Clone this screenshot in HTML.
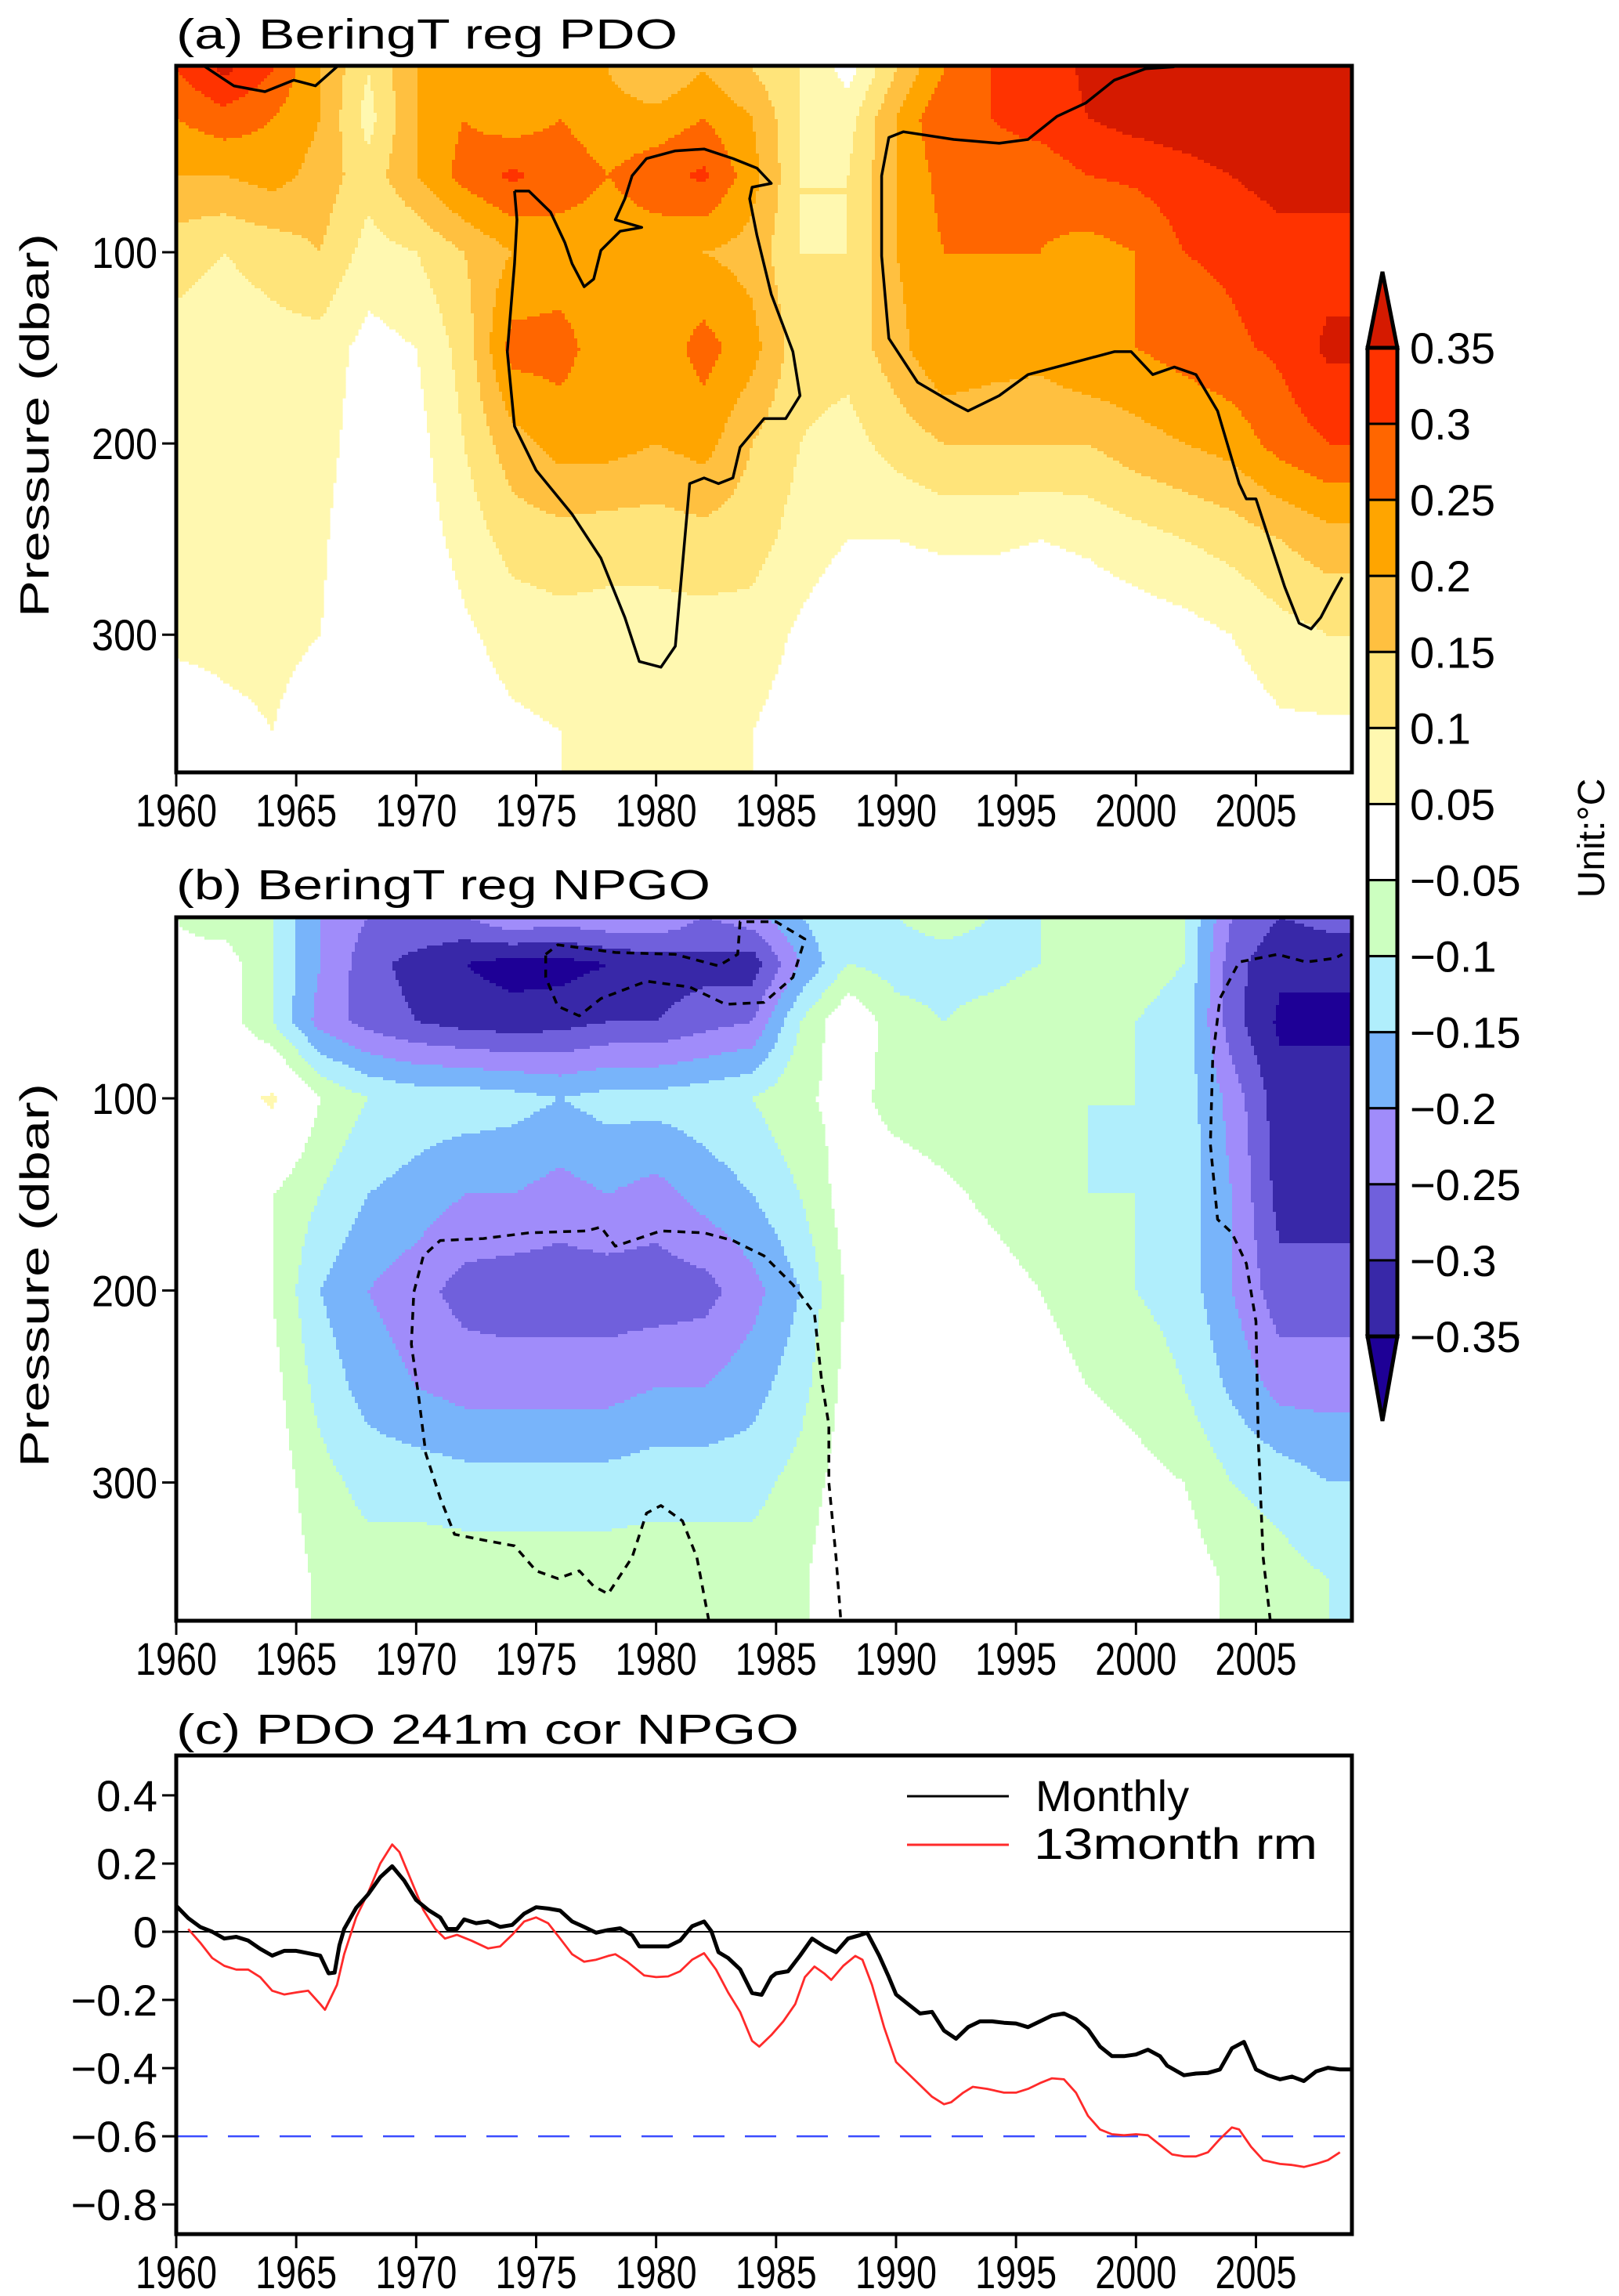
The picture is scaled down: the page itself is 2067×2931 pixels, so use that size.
<!DOCTYPE html>
<html><head><meta charset="utf-8"><title>BeringT regression PDO / NPGO</title>
<style>
html,body{margin:0;padding:0;background:#fff;}
svg{display:block;font-family:"Liberation Sans","DejaVu Sans",sans-serif;}
</style></head>
<body>
<svg id="fig" width="2067" height="2931" viewBox="0 0 2067 2931" xmlns="http://www.w3.org/2000/svg">
<g id="panelA"></g>
<g id="panelB"></g>
<g id="panelC"></g>
<g id="cbar"></g>
</svg>
<script>
// ---------- data ----------
const years = [1960,1962,1964,1966,1968,1970,1972,1974,1976,1978,1980,1982,1984,1986,1988,1990,1992,1994,1996,1998,2000,2002,2004,2006,2008];
const depths = [5,30,60,100,150,200,250,300,350];

const a_p5   = [0.3,0.36,0.3,0.2,0.1,0.2,0.25,0.2,0.25,0.2,0.15,0.2,0.15,0.1,0.03,0.15,0.25,0.3,0.32,0.36,0.38,0.39,0.4,0.4,0.4];
const a_p30  = [0.25,0.28,0.25,0.2,0.08,0.2,0.25,0.22,0.25,0.22,0.22,0.25,0.2,0.1,0.08,0.2,0.3,0.3,0.32,0.35,0.37,0.38,0.39,0.39,0.39];
const a_p60  = [0.2,0.2,0.22,0.18,0.12,0.2,0.27,0.31,0.28,0.25,0.28,0.31,0.22,0.1,0.1,0.2,0.27,0.28,0.27,0.3,0.31,0.33,0.35,0.37,0.37];
const a_p100 = [0.12,0.1,0.12,0.15,0.08,0.1,0.15,0.2,0.22,0.22,0.22,0.2,0.18,0.1,0.1,0.2,0.25,0.25,0.25,0.23,0.25,0.3,0.31,0.33,0.33];
const a_p150 = [0.08,0.07,0.08,0.08,0.03,0.05,0.12,0.27,0.27,0.22,0.22,0.27,0.22,0.12,0.12,0.18,0.25,0.23,0.22,0.25,0.25,0.27,0.29,0.31,0.36];
const a_p200 = [0.07,0.06,0.07,0.07,0.02,0.03,0.1,0.18,0.22,0.22,0.2,0.22,0.15,0.1,0.08,0.12,0.15,0.15,0.15,0.15,0.18,0.2,0.22,0.27,0.3];
const a_p250 = [0.07,0.06,0.07,0.06,0.0,0.02,0.07,0.12,0.13,0.12,0.12,0.13,0.12,0.08,0.05,0.05,0.06,0.06,0.05,0.06,0.08,0.1,0.12,0.15,0.18];
const a_p300 = [0.06,0.06,0.06,0.05,0.0,0.0,0.04,0.07,0.08,0.08,0.08,0.08,0.08,0.04,0.0,0.0,0.0,0.0,0.0,0.01,0.02,0.03,0.05,0.08,0.1];
const a_p350 = [0.02,0.04,0.05,0.03,0,0,0.02,0.04,0.05,0.06,0.06,0.06,0.05,0.02,0,0,0,0,0,0,0,0,0.02,0.04,0.04];

const b_p5   = [-0.05,-0.08,-0.1,-0.2,-0.25,-0.25,-0.25,-0.2,-0.22,-0.2,-0.2,-0.25,-0.22,-0.15,-0.1,-0.1,-0.08,-0.1,-0.1,-0.08,-0.06,-0.1,-0.25,-0.3,-0.28];
const b_p30  = [-0.04,-0.02,-0.1,-0.2,-0.28,-0.32,-0.35,-0.37,-0.37,-0.35,-0.33,-0.32,-0.33,-0.2,-0.1,-0.12,-0.12,-0.12,-0.1,-0.08,-0.08,-0.1,-0.28,-0.34,-0.34];
const b_p60  = [0,-0.02,-0.1,-0.22,-0.27,-0.3,-0.32,-0.33,-0.32,-0.3,-0.3,-0.27,-0.25,-0.1,0,-0.08,-0.1,-0.08,-0.06,-0.08,-0.1,-0.12,-0.28,-0.36,-0.36];
const b_p100 = [0.03,0.02,0.06,-0.05,-0.1,-0.12,-0.12,-0.13,-0.15,-0.13,-0.13,-0.12,-0.1,-0.06,-0.03,-0.07,-0.08,-0.08,-0.08,-0.1,-0.1,-0.12,-0.22,-0.33,-0.33];
const b_p150 = [0.02,-0.01,-0.05,-0.1,-0.15,-0.17,-0.2,-0.2,-0.22,-0.2,-0.22,-0.18,-0.15,-0.1,-0.02,-0.02,-0.04,-0.06,-0.08,-0.1,-0.1,-0.12,-0.2,-0.32,-0.32];
const b_p200 = [0,-0.02,-0.05,-0.15,-0.2,-0.23,-0.27,-0.28,-0.28,-0.28,-0.28,-0.27,-0.22,-0.15,-0.04,0,-0.02,-0.03,-0.05,-0.07,-0.1,-0.12,-0.2,-0.28,-0.28];
const b_p250 = [0,-0.01,-0.03,-0.12,-0.17,-0.2,-0.22,-0.22,-0.22,-0.22,-0.2,-0.2,-0.17,-0.12,-0.03,0,0,-0.02,-0.03,-0.05,-0.07,-0.1,-0.16,-0.22,-0.22];
const b_p300 = [0,0,-0.02,-0.08,-0.12,-0.12,-0.13,-0.13,-0.13,-0.13,-0.12,-0.12,-0.12,-0.08,-0.02,0,0,0,0,-0.01,-0.03,-0.05,-0.1,-0.12,-0.15];
const b_p350 = [0,0,-0.01,-0.06,-0.07,-0.07,-0.07,-0.07,-0.07,-0.07,-0.07,-0.07,-0.07,-0.06,0,0,0,0,0,0,0,-0.02,-0.06,-0.08,-0.1];

// significance contours (year, pressure)
const contA1_year = [1974.1,1974.2,1974.1,1973.8,1974.1,1975.0,1976.5,1977.7,1978.7,1979.3,1980.2,1980.8,1981.4,1982.0,1982.6,1983.2,1983.5,1984.5,1985.4,1986.0,1985.7,1984.8,1984.2,1983.9,1984.0,1984.8,1984.2,1983.2,1982.0,1980.8,1979.6,1979.0,1978.7,1978.3,1979.4,1978.5,1977.7,1977.4,1977.0,1976.5,1976.2,1975.6,1974.7,1974.1];
const contA1_p    = [68,83,106,152,191,214,237,260,291,314,317,306,221,218,221,218,202,187,187,175,152,122,91,72,66,64,56,51,46,47,51,60,72,83,87,89,99,114,118,106,95,79,68,68];
const contA2_year = [2001.6,2000.4,1999.1,1997.9,1996.7,1995.5,1994.3,1992.4,1990.3,1989.7,1989.4,1989.4,1989.7,1990.9,1992.4,1993.0,1994.3,1995.5,1997.9,1999.1,1999.8,2000.7,2001.6,2002.5,2003.4,2004.3,2004.6,2005.0,2005.6,2006.2,2006.8,2007.3,2007.7,2008.2,2008.6];
const contA2_p    = [3,4,10,22,29,41,43,41,37,40,60,102,145,168,179,183,175,164,156,152,152,164,160,164,183,221,229,229,252,275,294,297,291,279,270];
const contA3_year = [1961.2,1962.4,1963.7,1964.9,1965.8,1966.7];
const contA3_p    = [3,13,16,10,13,3];

const contB1_year = [1975.4,1975.9,1978.3,1980.8,1982.6,1983.4,1983.5,1985.0,1986.2,1985.7,1984.5,1982.9,1981.4,1979.6,1977.7,1976.8,1975.9,1975.4,1975.4];
const contB1_p    = [25,20,24,25,31,25,8,8,17,37,50,51,42,39,48,57,52,37,25];
const contB2_year = [1982.2,1981.7,1981.1,1980.2,1979.6,1979.0,1978.0,1977.4,1976.8,1975.9,1975.0,1974.1,1972.8,1971.6,1971.0,1970.4,1970.1,1969.8,1969.9,1970.3,1971.0,1972.8,1974.7,1977.1,1977.7,1978.3,1980.2,1982.0,1983.2,1984.5,1985.7,1986.6,1986.9,1987.2,1987.2,1987.5,1987.7];
const contB2_p    = [372,339,320,312,316,339,358,354,346,350,346,333,330,327,308,285,255,228,201,182,174,173,170,169,167,177,169,170,174,182,197,212,247,270,300,339,372];
const contB3_year = [2005.6,2005.3,2005.1,2005.0,2004.6,2004.0,2003.4,2003.1,2003.2,2003.5,2004.3,2005.9,2007.1,2008.3,2008.6];
const contB3_p    = [372,339,278,216,186,170,163,124,79,48,29,25,29,27,25];

// panel (c) series
const monthlyYear = [1960,1960.5,1961,1961.5,1962,1962.5,1963,1963.5,1964,1964.5,1965,1965.5,1966,1966.35,1966.6,1966.8,1967,1967.5,1968,1968.5,1969,1969.5,1970,1970.5,1971,1971.3,1971.7,1972,1972.5,1973,1973.5,1974,1974.5,1975,1975.5,1976,1976.5,1977,1977.5,1978,1978.5,1979,1979.3,1980,1980.5,1981,1981.5,1982,1982.3,1982.6,1983,1983.5,1984,1984.4,1984.8,1985,1985.5,1986,1986.5,1987,1987.5,1988,1988.5,1988.8,1989.3,1989.7,1990,1990.5,1991,1991.5,1992,1992.5,1993,1993.5,1994,1994.5,1995,1995.5,1996,1996.5,1997,1997.5,1998,1998.5,1999,1999.5,2000,2000.5,2001,2001.3,2002,2002.5,2003,2003.5,2004,2004.5,2005,2005.5,2006,2006.5,2007,2007.5,2008,2008.5,2009];
const monthlyVal  = [0.076,0.04,0.014,0.0,-0.02,-0.015,-0.026,-0.05,-0.07,-0.056,-0.056,-0.063,-0.07,-0.122,-0.12,-0.04,0.008,0.07,0.11,0.16,0.192,0.15,0.093,0.064,0.042,0.008,0.008,0.036,0.025,0.03,0.014,0.02,0.053,0.072,0.068,0.062,0.03,0.014,-0.003,0.005,0.01,-0.01,-0.043,-0.043,-0.043,-0.026,0.016,0.03,0.002,-0.06,-0.077,-0.11,-0.18,-0.185,-0.133,-0.122,-0.116,-0.07,-0.02,-0.043,-0.06,-0.02,-0.01,-0.003,-0.07,-0.133,-0.184,-0.212,-0.24,-0.235,-0.29,-0.314,-0.28,-0.263,-0.263,-0.267,-0.269,-0.28,-0.263,-0.246,-0.24,-0.257,-0.286,-0.337,-0.365,-0.365,-0.36,-0.346,-0.365,-0.393,-0.421,-0.416,-0.414,-0.404,-0.342,-0.323,-0.404,-0.421,-0.433,-0.425,-0.438,-0.41,-0.399,-0.404,-0.404];
const rmYear = [1960.5,1961,1961.5,1962,1962.5,1963,1963.5,1964,1964.5,1965,1965.5,1966,1966.2,1966.7,1967,1967.5,1968,1968.5,1969,1969.3,1969.8,1970.3,1970.8,1971.2,1971.7,1972.3,1973,1973.5,1974,1974.5,1975,1975.5,1976,1976.5,1977,1977.5,1978,1978.3,1978.8,1979.5,1980,1980.5,1981,1981.5,1982,1982.5,1983,1983.5,1984,1984.3,1984.8,1985.3,1985.8,1986.2,1986.6,1987,1987.3,1987.8,1988.3,1988.6,1989,1989.5,1990,1990.5,1991,1991.5,1992,1992.3,1992.8,1993.2,1993.8,1994.5,1995,1995.5,1996,1996.5,1997,1997.5,1998,1998.5,1999,1999.5,2000,2000.5,2001,2001.5,2002,2002.5,2003,2003.5,2004,2004.3,2004.8,2005.3,2006,2006.5,2007,2007.5,2008,2008.5];
const rmVal  = [0.008,-0.032,-0.077,-0.1,-0.111,-0.111,-0.133,-0.173,-0.184,-0.178,-0.173,-0.212,-0.229,-0.156,-0.066,0.042,0.115,0.2,0.256,0.234,0.149,0.064,0.008,-0.02,-0.009,-0.026,-0.049,-0.043,-0.009,0.03,0.042,0.025,-0.02,-0.066,-0.088,-0.082,-0.071,-0.066,-0.088,-0.128,-0.133,-0.131,-0.116,-0.082,-0.063,-0.111,-0.178,-0.235,-0.32,-0.337,-0.303,-0.263,-0.212,-0.133,-0.102,-0.122,-0.141,-0.1,-0.071,-0.082,-0.156,-0.28,-0.382,-0.416,-0.45,-0.484,-0.506,-0.5,-0.472,-0.455,-0.461,-0.472,-0.472,-0.461,-0.444,-0.43,-0.433,-0.472,-0.54,-0.58,-0.594,-0.597,-0.594,-0.597,-0.625,-0.653,-0.659,-0.659,-0.647,-0.608,-0.574,-0.58,-0.631,-0.67,-0.681,-0.684,-0.69,-0.681,-0.67,-0.647];

const xTicks = [1960,1965,1970,1975,1980,1985,1990,1995,2000,2005];
const pTicks = [100,200,300];
const cTicks = [0.4,0.2,0,-0.2,-0.4,-0.6,-0.8];
const levels = [-0.35,-0.3,-0.25,-0.2,-0.15,-0.1,-0.05,0.05,0.1,0.15,0.2,0.25,0.3,0.35];
const levelColors = ["#1e0096","#3828a8","#7060dc","#a08cfa","#78b4fa","#b0eefc","#ccffc0","#ffffff","#fff8b0","#ffe47a","#ffc040","#ffa500","#ff6600","#ff3300","#d51a00"];
const sigLevel = -0.6;

// ---------- helpers ----------
const NS = "http://www.w3.org/2000/svg";
function mk(tag, attrs, parent){ const e=document.createElementNS(NS,tag); for(const k in attrs) e.setAttribute(k,attrs[k]); if(parent) parent.appendChild(e); return e; }
function txt(parent, s, x, y, size, anchor, extra){ const t=mk("text",Object.assign({x:x,y:y,"font-size":size,"text-anchor":anchor||"start",fill:"#000"},extra||{}),parent); t.textContent=s; return t; }
function fmt(v){ if(Math.abs(v)<1e-9) return "0"; const s=String(Math.round(Math.abs(v)*100)/100); return (v<0?"\u2212":"")+s; }
function colorFor(v){ let i=0; while(i<levels.length && v>levels[i]) i++; return levelColors[i]; }
function interp(field, yr, p){
  let yv=Math.min(Math.max(yr,years[0]),years[years.length-1]);
  let pv=Math.min(Math.max(p,depths[0]),depths[depths.length-1]);
  let i=0; while(i<years.length-2 && yv>years[i+1]) i++;
  let j=0; while(j<depths.length-2 && pv>depths[j+1]) j++;
  const tx=(yv-years[i])/(years[i+1]-years[i]), ty=(pv-depths[j])/(depths[j+1]-depths[j]);
  const a=field[j][i], b=field[j][i+1], c=field[j+1][i], d=field[j+1][i+1];
  return (a*(1-tx)+b*tx)*(1-ty)+(c*(1-tx)+d*tx)*ty;
}
const X0=225, X1=1726, YR0=1960, YR1=2009;
function xs(yr){ return X0+(yr-YR0)/(YR1-YR0)*(X1-X0); }

function contourPanel(g, cfg){
  const ys = p => cfg.y0 + (p-cfg.p0)/(cfg.p1-cfg.p0)*(cfg.y1-cfg.y0);
  const fill = mk("g",{},g);
  
  
  const step=4;
  for(let py=cfg.y0; py<cfg.y1; py+=step){
    const h=Math.min(step,cfg.y1-py);
    const p=cfg.p0+(py+h/2-cfg.y0)/(cfg.y1-cfg.y0)*(cfg.p1-cfg.p0);
    let runStart=X0, runCol=null;
    for(let px=X0; px<X1+step; px+=step){
      let col=null;
      if(px<X1){ const yr=YR0+(Math.min(px+step/2,X1)-X0)/(X1-X0)*(YR1-YR0); col=colorFor(interp(cfg.field,yr,p)); }
      if(col!==runCol){
        if(runCol && runCol!=="#ffffff"){
          const r=mk("rect",{x:runStart,y:py,width:Math.min(px,X1)-runStart+0.6,height:h+0.6,fill:runCol},fill);
          
          
        }
        runStart=px; runCol=col;
      }
    }
  }
  cfg.lines.forEach((ln,k)=>{
    const pts=ln[0].map((yr,i)=>xs(yr).toFixed(1)+","+ys(ln[1][i]).toFixed(1)).join(" ");
    const pl=mk("polyline",{points:pts,fill:"none",stroke:"#000","stroke-width":3.5,"stroke-dasharray":cfg.dash||"none","stroke-linejoin":"round"},g);
    
    
  });
  axesFrame(g,cfg.y0,cfg.y1,cfg.name);
  pTicks.forEach(v=>{
    const y=ys(v);
    const t=mk("line",{x1:X0-18,x2:X0,y1:y,y2:y,stroke:"#000","stroke-width":3},g);
    
    
    const l=txt(g,String(v),X0-24,y+20,56,"end",{textLength:84,lengthAdjust:"spacingAndGlyphs"});
    
    
  });
  const yt=txt(g,"Pressure (dbar)",0,0,52,"middle",{transform:"translate(62,"+((cfg.y0+cfg.y1)/2+8)+") rotate(-90)",textLength:490,lengthAdjust:"spacingAndGlyphs"});
  
  
  const tt=txt(g,cfg.title,225,cfg.titleY,54,"start",{textLength:cfg.titleLen,lengthAdjust:"spacingAndGlyphs"});
  
  
}
function axesFrame(g,y0,y1,name){
  const f=mk("rect",{x:X0,y:y0,width:X1-X0,height:y1-y0,fill:"none",stroke:"#000","stroke-width":5},g);
  
  
  xTicks.forEach(yr=>{
    const x=xs(yr);
    const t=mk("line",{x1:x,x2:x,y1:y1,y2:y1+18,stroke:"#000","stroke-width":3},g);
    
    
    const l=txt(g,String(yr),x,y1+69,58,"middle",{textLength:104,lengthAdjust:"spacingAndGlyphs"});
    
    
  });
}

// ---------- panels a, b ----------
contourPanel(document.getElementById("panelA"),{
  name:"panel-a", y0:84, y1:986, p0:2.5, p1:372,
  field:[a_p5,a_p30,a_p60,a_p100,a_p150,a_p200,a_p250,a_p300,a_p350],
  lines:[[contA1_year,contA1_p],[contA2_year,contA2_p],[contA3_year,contA3_p]],
  title:"(a) BeringT reg PDO", titleY:62, titleLen:640
});
contourPanel(document.getElementById("panelB"),{
  name:"panel-b", y0:1171, y1:2069, p0:5.7, p1:372,
  field:[b_p5,b_p30,b_p60,b_p100,b_p150,b_p200,b_p250,b_p300,b_p350],
  lines:[[contB1_year,contB1_p],[contB2_year,contB2_p],[contB3_year,contB3_p]],
  dash:"10,8",
  title:"(b) BeringT reg NPGO", titleY:1148, titleLen:682
});

// ---------- panel c ----------
(function(){
  const g=document.getElementById("panelC");
  const Y0=2241, Y1=2852, V0=0.517, V1=-0.887;
  const ys=v=>Y0+(v-V0)/(V1-V0)*(Y1-Y0);
  const z=mk("line",{x1:X0,x2:X1,y1:ys(0),y2:ys(0),stroke:"#000","stroke-width":2},g);
  
  
  const s=mk("line",{x1:X0,x2:X1,y1:ys(sigLevel),y2:ys(sigLevel),stroke:"#3a4cff","stroke-width":2.5,"stroke-dasharray":"40,26"},g);
  
  
  const rp=mk("polyline",{points:rmYear.map((yr,i)=>xs(yr).toFixed(1)+","+ys(rmVal[i]).toFixed(1)).join(" "),fill:"none",stroke:"#ff2a2a","stroke-width":2.8,"stroke-linejoin":"round"},g);
  
  
  const mp=mk("polyline",{points:monthlyYear.map((yr,i)=>xs(yr).toFixed(1)+","+ys(monthlyVal[i]).toFixed(1)).join(" "),fill:"none",stroke:"#000","stroke-width":5,"stroke-linejoin":"round"},g);
  
  
  axesFrame(g,Y0,Y1,"panel-c");
  cTicks.forEach(v=>{
    const y=ys(v);
    const t=mk("line",{x1:X0-18,x2:X0,y1:y,y2:y,stroke:"#000","stroke-width":3},g);
    
    
    const l=txt(g,fmt(v),X0-24,y+20,56,"end");
    
    
  });
  const tt=txt(g,"(c) PDO 241m cor NPGO",225,2226,54,"start",{textLength:795,lengthAdjust:"spacingAndGlyphs"});
  
  
  const lg=mk("g",{},g);
  
  
  const l1=mk("line",{x1:1158,x2:1288,y1:2293,y2:2293,stroke:"#000","stroke-width":3},lg);
  
  
  const t1=txt(lg,"Monthly",1322,2312,56,"start");
  
  
  const l2=mk("line",{x1:1158,x2:1288,y1:2355,y2:2355,stroke:"#ff2a2a","stroke-width":3},lg);
  
  
  const t2=txt(lg,"13month  rm",1320,2373,56,"start",{textLength:362,lengthAdjust:"spacingAndGlyphs"});
  
  
})();

// ---------- colorbar ----------
(function(){
  const g=document.getElementById("cbar");
  const bx0=1746, bx1=1784, top=444, bot=1706, n=levelColors.length-2;
  const h=(bot-top)/n;
  const up=mk("polygon",{points:bx0+","+top+" "+bx1+","+top+" "+((bx0+bx1)/2)+",347",fill:levelColors[levelColors.length-1],stroke:"#000","stroke-width":5,"stroke-linejoin":"miter"},g);
  
  
  const dn=mk("polygon",{points:bx0+","+bot+" "+bx1+","+bot+" "+((bx0+bx1)/2)+",1814",fill:levelColors[0],stroke:"#000","stroke-width":5},g);
  
  
  for(let k=0;k<n;k++){
    const col=levelColors[levelColors.length-2-k];
    const r=mk("rect",{x:bx0,y:top+k*h,width:bx1-bx0,height:h,fill:col,stroke:"#000","stroke-width":3},g);
    
    
  }
  mk("rect",{x:bx0,y:top,width:bx1-bx0,height:bot-top,fill:"none",stroke:"#000","stroke-width":5},g);
  for(let k=0;k<levels.length;k++){
    const v=levels[levels.length-1-k];
    const y=top+k*h;
    const l=txt(g,fmt(v),1800,y+20,56,"start");
    
    
  }
  const u=txt(g,"Unit:\u00B0C",0,0,48,"middle",{transform:"translate(2048,1070) rotate(-90)"});
  
  
})();
</script>
</body></html>
